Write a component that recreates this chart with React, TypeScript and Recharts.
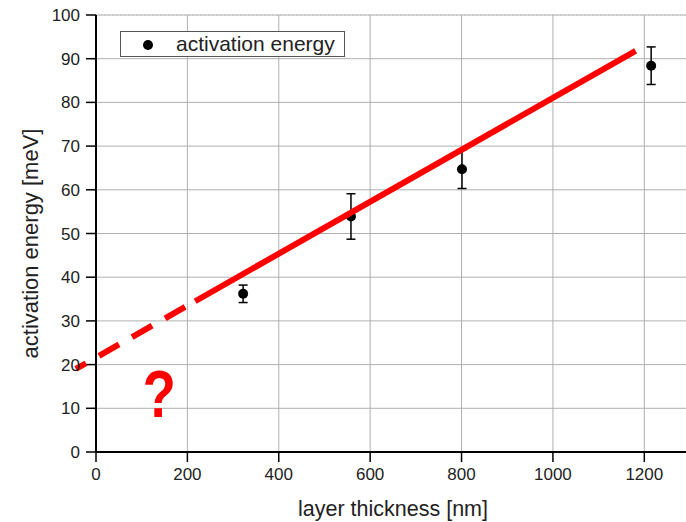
import {
  ComposedChart, Scatter, ErrorBar, Line, XAxis, YAxis, CartesianGrid, ReferenceLine,
} from 'recharts'

const xTicks      = [0, 200, 400, 600, 800, 1000, 1200]
const xMinorTicks = [100, 300, 500, 700, 900, 1100]
const yTicks      = [0, 10, 20, 30, 40, 50, 60, 70, 80, 90, 100]
const yMinorTicks = [5, 15, 25, 35, 45, 55, 65, 75, 85, 95]

// measured activation energies with error bars
const thickness = [322, 558, 801, 1215]
const energy    = [36.2, 53.9, 64.7, 88.4]
const energyErr = [2.0, 5.2, 4.4, 4.3]

// hand-drawn red fit: dashed extrapolation + solid part
const fitDashed = [{ x: -44, y: 19.0 }, { x: 217, y: 34.5 }]
const fitSolid  = [{ x: 217, y: 34.5 }, { x: 1181, y: 91.8 }]

const points = thickness.map((x, i) => ({ x, y: energy[i], err: energyErr[i] }))

const FONT = '"Liberation Sans", Arial, sans-serif'
const INK  = '#222'
const RED  = '#ff0000'

function Dot(props: { cx?: number; cy?: number }) {
  return <circle cx={props.cx} cy={props.cy} r={5} fill="#000" />
}

export default function App() {
  return (
    <div style={{
      position: 'absolute', left: 0, top: 0, width: 686, height: 522,
      overflow: 'hidden', background: '#fff', fontFamily: FONT,
    }}>
      <ComposedChart width={690} height={522} margin={{ top: 15, right: 0, bottom: 0, left: 0 }}>
        {/* minor axes first so they sit right on the plot edge */}
        <XAxis xAxisId="xMinor" type="number" dataKey="x" domain={[0, 1300]} ticks={xMinorTicks}
          height={0} tick={false} tickSize={6} axisLine={false}
          tickLine={{ stroke: '#000', strokeWidth: 1.5 }} allowDataOverflow />
        <XAxis xAxisId="x" type="number" dataKey="x" domain={[0, 1300]} ticks={xTicks}
          height={70} tickSize={10} tickMargin={6}
          tick={{ fontSize: 17, fill: INK }}
          axisLine={{ stroke: '#000', strokeWidth: 2 }}
          tickLine={{ stroke: '#000', strokeWidth: 1.5 }}
          label={{ value: 'layer thickness [nm]', position: 'insideBottom', offset: 6, fontSize: 21.5, fill: INK }}
          allowDataOverflow />
        <XAxis xAxisId="xTop" type="number" orientation="top" mirror domain={[0, 1300]} ticks={xTicks}
          height={0} tick={false} tickSize={8}
          axisLine={{ stroke: '#555', strokeWidth: 2 }} tickLine={{ stroke: '#333', strokeWidth: 1.5 }} />
        <XAxis xAxisId="xTopMinor" type="number" orientation="top" mirror domain={[0, 1300]} ticks={xMinorTicks}
          height={0} tick={false} tickSize={4} axisLine={false}
          tickLine={{ stroke: '#333', strokeWidth: 1.5 }} />

        <YAxis yAxisId="yMinor" type="number" domain={[0, 100]} ticks={yMinorTicks}
          width={0} tick={false} tickSize={5} axisLine={false}
          tickLine={{ stroke: '#000', strokeWidth: 1.5 }} />
        <YAxis yAxisId="y" type="number" dataKey="y" domain={[0, 100]} ticks={yTicks}
          width={96} tickSize={10} tickMargin={6}
          tick={{ fontSize: 17, fill: INK }}
          axisLine={{ stroke: '#000', strokeWidth: 2 }}
          tickLine={{ stroke: '#000', strokeWidth: 1.5 }}
          label={{
            value: 'activation energy [meV]', angle: -90, position: 'insideLeft',
            offset: 30, dy: 10, fontSize: 22, fill: INK, style: { textAnchor: 'middle' },
          }} />
        <YAxis yAxisId="yRight" type="number" orientation="right" mirror domain={[0, 100]} ticks={yTicks}
          width={0} tick={false} tickSize={7}
          axisLine={{ stroke: '#555', strokeWidth: 2 }} tickLine={{ stroke: '#333', strokeWidth: 1.5 }} />
        <YAxis yAxisId="yRightMinor" type="number" orientation="right" mirror domain={[0, 100]} ticks={yMinorTicks}
          width={0} tick={false} tickSize={4} axisLine={false}
          tickLine={{ stroke: '#333', strokeWidth: 1.5 }} />

        <CartesianGrid xAxisId="xMinor" yAxisId="yMinor" stroke="#d2d2d2" strokeDasharray="2 2" />
        <CartesianGrid xAxisId="x" yAxisId="y" stroke="#b0b0b0" />

        <Scatter xAxisId="x" yAxisId="y" data={points} dataKey="y" shape={<Dot />} isAnimationActive={false}>
          <ErrorBar dataKey="err" direction="y" width={4.5} stroke="#000" strokeWidth={1.5} />
        </Scatter>

        {/* red fit drawn above the points, as in the original */}
        <ReferenceLine xAxisId="x" yAxisId="y" segment={fitDashed} ifOverflow="visible" zIndex={700}
          stroke={RED} strokeWidth={6} strokeDasharray="11.6 15 23 15 23 15 23 15 23 15" />
        <Line xAxisId="x" yAxisId="y" data={fitSolid} dataKey="y" type="linear" zIndex={700}
          stroke={RED} strokeWidth={6} dot={false} activeDot={false} isAnimationActive={false} />
      </ComposedChart>

      {/* legend */}
      <div style={{
        position: 'absolute', left: 120, top: 31, width: 223, height: 24,
        border: '1px solid #555', background: '#fff',
      }}>
        <div style={{
          position: 'absolute', left: 22, top: 8, width: 10, height: 10,
          borderRadius: '50%', background: '#000',
        }} />
        <div style={{
          position: 'absolute', left: 55, top: 0, fontSize: 21, lineHeight: '24px', color: INK,
          whiteSpace: 'nowrap',
        }}>
          activation energy
        </div>
      </div>

      {/* the question mark */}
      <div style={{
        position: 'absolute', left: 139, top: 361, fontSize: 66, lineHeight: 1,
        fontWeight: 700, color: RED, transform: 'scaleX(0.82)',
      }}>
        ?
      </div>
    </div>
  )
}
